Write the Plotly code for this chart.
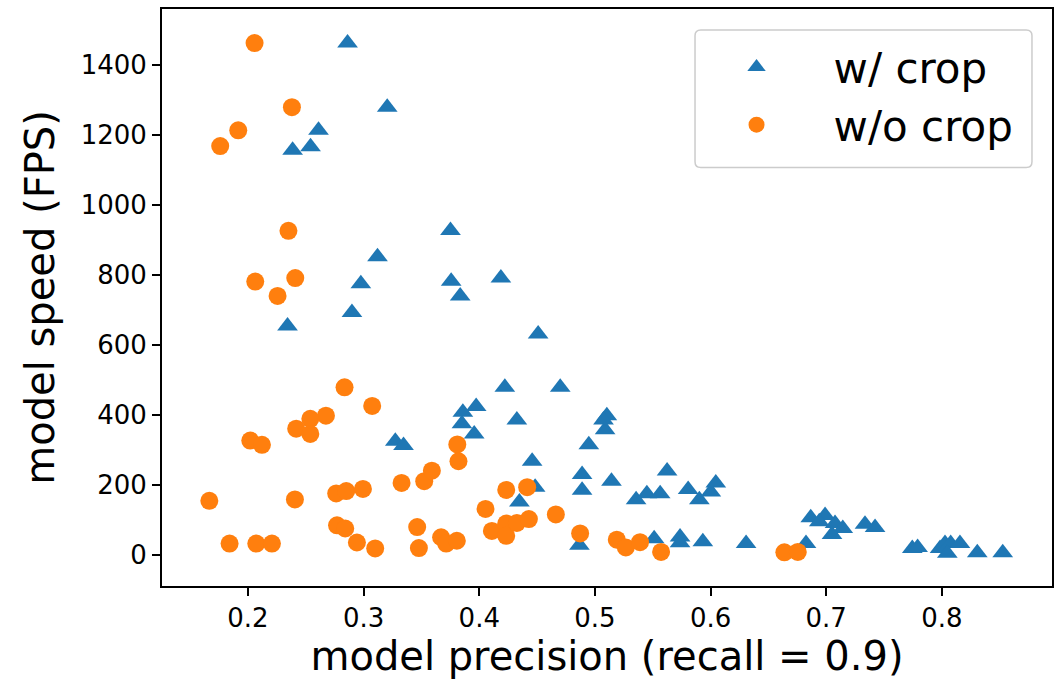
import plotly.graph_objects as go

# ---- data ----
crop_precision = [0.2861, 0.3204, 0.2610, 0.2541, 0.2386, 0.3751, 0.3120, 0.2976, 0.3757, 0.4187,
                  0.3835, 0.2342, 0.2899, 0.3274, 0.3345, 0.4509, 0.4221, 0.4700, 0.3973, 0.3858,
                  0.3850, 0.3956, 0.4325, 0.5103, 0.5074, 0.5088, 0.4947, 0.4457, 0.4889, 0.4889,
                  0.5143, 0.4483, 0.4347, 0.5624, 0.5356, 0.5449, 0.5564, 0.5806, 0.5903, 0.6002,
                  0.6045, 0.4866, 0.5512, 0.5736, 0.5736, 0.5933, 0.6307, 0.6825, 0.6866, 0.6990,
                  0.6940, 0.7076, 0.7143, 0.7050, 0.7335, 0.7422, 0.7744, 0.7790, 0.7984, 0.8027,
                  0.8076, 0.8156, 0.8047, 0.8306, 0.8526]
crop_fps = [1462, 1279, 1213, 1166, 1156, 927, 852, 775, 782, 791,
            740, 654, 693, 325, 313, 631, 479, 479, 424, 408,
            375, 346, 386, 398, 386, 358, 315, 268, 230, 185,
            211, 194, 152, 240, 158, 175, 175, 187, 158, 180,
            206, 28, 47, 52, 35, 38, 33, 33, 107, 113,
            95, 90, 76, 59, 88, 79, 19, 22, 19, 33,
            33, 33, 5, 7, 7]

nocrop_precision = [0.2057, 0.2380, 0.1916, 0.1760, 0.2350, 0.2063, 0.2409, 0.2256, 0.2835, 0.3074,
                    0.2674, 0.2539, 0.2417, 0.2539, 0.2020, 0.2121, 0.1666, 0.2406, 0.2763, 0.2850,
                    0.2994, 0.3328, 0.3524, 0.3590, 0.3810, 0.3820, 0.2770, 0.2841, 0.1841, 0.2072,
                    0.2207, 0.2942, 0.3100, 0.3463, 0.3478, 0.3670, 0.3714, 0.3806, 0.4054, 0.4233,
                    0.4414, 0.4109, 0.4233, 0.4233, 0.4325, 0.4429, 0.4662, 0.4872, 0.5189, 0.5267,
                    0.5390, 0.5572, 0.6638, 0.6754]
nocrop_fps = [1462, 1279, 1213, 1168, 926, 781, 791, 740, 479, 426,
              398, 389, 361, 346, 327, 315, 155, 159, 176, 183,
              189, 206, 211, 241, 316, 268, 85, 76, 33, 33,
              33, 36, 19, 80, 20, 51, 33, 41, 132, 186,
              194, 69, 90, 55, 92, 103, 116, 62, 44, 22,
              37, 9, 8, 9]

x_tick_values = [0.2, 0.3, 0.4, 0.5, 0.6, 0.7, 0.8]
x_tick_labels = ["0.2", "0.3", "0.4", "0.5", "0.6", "0.7", "0.8"]
y_tick_values = [0, 200, 400, 600, 800, 1000, 1200, 1400]
y_tick_labels = ["0", "200", "400", "600", "800", "1000", "1200", "1400"]

BLUE = "#1f77b4"
ORANGE = "#ff7f0e"
FONT = "DejaVu Sans"

fig = go.Figure()
fig.add_trace(go.Scatter(
    x=crop_precision, y=crop_fps, mode="markers", name="w/ crop",
    legendgroup="a",
    marker=dict(symbol="triangle-up", size=18, color=BLUE, line=dict(width=0)),
))
fig.add_trace(go.Scatter(
    x=nocrop_precision, y=nocrop_fps, mode="markers", name="w/o crop",
    legendgroup="b",
    marker=dict(symbol="circle", size=18, color=ORANGE, line=dict(width=0)),
))

# rounded legend frame (matplotlib style)
x0, x1, y0, y1 = 0.5989, 0.9775, 0.7254, 0.9637
rx, ry = 0.0065, 0.010
path = (f"M {x0+rx},{y0} L {x1-rx},{y0} Q {x1},{y0} {x1},{y0+ry} "
        f"L {x1},{y1-ry} Q {x1},{y1} {x1-rx},{y1} L {x0+rx},{y1} "
        f"Q {x0},{y1} {x0},{y1-ry} L {x0},{y0+ry} Q {x0},{y0} {x0+rx},{y0} Z")
fig.add_shape(type="path", path=path, xref="paper", yref="paper",
              line=dict(color="#cccccc", width=1.5),
              fillcolor="rgba(255,255,255,0.8)", layer="above")

axis_common = dict(
    showline=True, linecolor="black", linewidth=2, mirror=True,
    ticks="outside", ticklen=8, tickwidth=2, tickcolor="black",
    showgrid=False, zeroline=False,
    tickfont=dict(family=FONT, size=26, color="black"),
)

fig.update_layout(
    width=1061, height=681,
    margin=dict(l=162, r=9, t=7, b=95),
    paper_bgcolor="white", plot_bgcolor="white",
    font=dict(family=FONT, color="black"),
    showlegend=True,
    legend=dict(
        x=0.5815, y=0.958, xanchor="left", yanchor="top",
        bgcolor="rgba(0,0,0,0)", borderwidth=0,
        font=dict(family=FONT, size=42, color="black"),
        itemwidth=144, tracegroupgap=0,
    ),
    xaxis=dict(
        range=[0.12567, 0.8952],
        tickmode="array", tickvals=x_tick_values, ticktext=x_tick_labels,
        title=dict(text="model precision (recall = 0.9)",
                   font=dict(family=FONT, size=40, color="black"), standoff=6),
        **axis_common,
    ),
    yaxis=dict(
        range=[-88.2, 1559.3],
        tickmode="array", tickvals=y_tick_values, ticktext=y_tick_labels,
        title=dict(text="model speed (FPS)",
                   font=dict(family=FONT, size=40, color="black"), standoff=14),
        **axis_common,
    ),
)

fig.write_html("out.html")
